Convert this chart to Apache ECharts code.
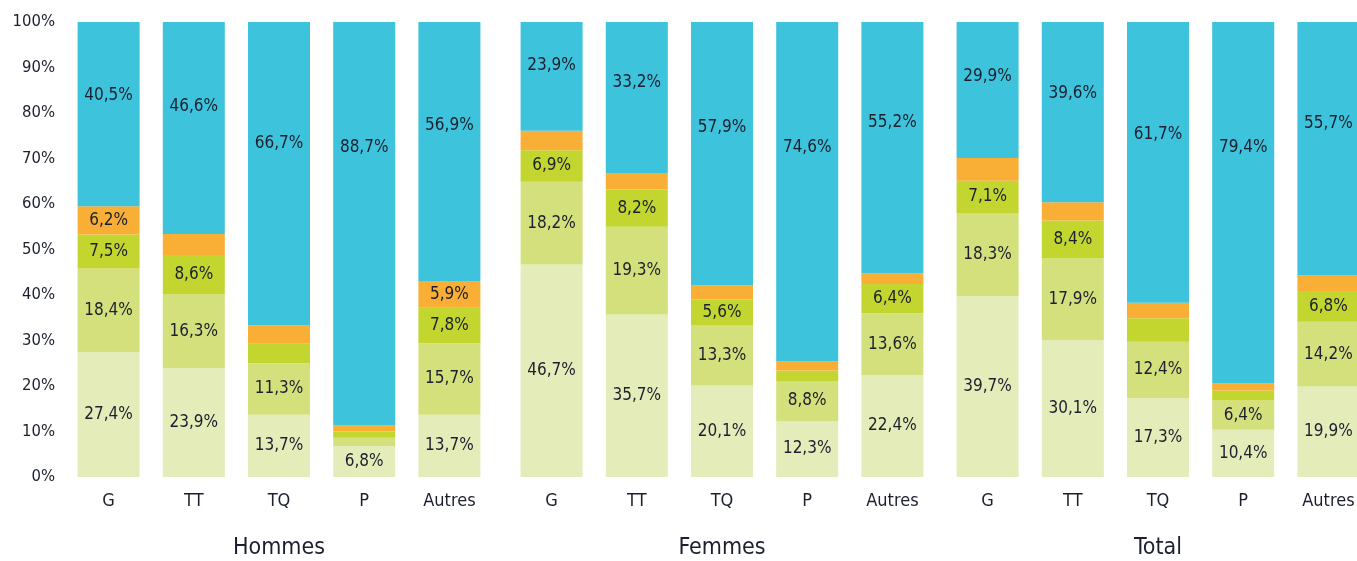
<!DOCTYPE html>
<html>
<head>
<meta charset="utf-8">
<script src="https://cdn.jsdelivr.net/npm/echarts@6/dist/echarts.min.js"></script>
<style>
  html, body { margin: 0; padding: 0; background: #fff; }
  #main { width: 1357px; height: 561px; }
</style>
</head>
<body>
<div id="main"></div>
<script>
var groups = ['Hommes', 'Femmes', 'Total'];
var categories = ['G', 'TT', 'TQ', 'P', 'Autres'];
var yTicks = [0, 10, 20, 30, 40, 50, 60, 70, 80, 90, 100];

// values per segment, 15 bars: Hommes x5, Femmes x5, Total x5 (bottom to top)
var seg1 = [27.4, 23.9, 13.7, 6.8, 13.7,   46.7, 35.7, 20.1, 12.3, 22.4,   39.7, 30.1, 17.3, 10.4, 19.9];
var seg2 = [18.4, 16.3, 11.3, 1.8, 15.7,   18.2, 19.3, 13.3, 8.8, 13.6,    18.3, 17.9, 12.4, 6.4, 14.2];
var seg3 = [7.5, 8.6, 4.3, 1.4, 7.8,       6.9, 8.2, 5.6, 2.3, 6.4,        7.1, 8.4, 5.2, 2.2, 6.8];
var seg4 = [6.2, 4.6, 4.0, 1.3, 5.9,       4.3, 3.6, 3.1, 2.0, 2.4,        5.0, 4.0, 3.4, 1.6, 3.4];
var seg5 = [40.5, 46.6, 66.7, 88.7, 56.9,  23.9, 33.2, 57.9, 74.6, 55.2,   29.9, 39.6, 61.7, 79.4, 55.7];

var segments = [seg1, seg2, seg3, seg4, seg5];
var colors = ['#E4EDBA', '#D4E07C', '#C3D62F', '#F9AE36', '#3DC3DC'];
var font = "'Liberation Sans Narrow', 'DejaVu Sans Condensed', sans-serif";
var textColor = '#1c1f2e';

function fmt(v) {
  return v.toFixed(1).replace('.', ',') + '%';
}

var grids = [], xAxes = [], yAxes = [], series = [];
var lefts = [66, 509, 945];

groups.forEach(function(g, gi) {
  grids.push({ left: lefts[gi], width: 426, top: 22, bottom: 84, outerBoundsMode: 'none', containLabel: false });
  xAxes.push({
    type: 'category', gridIndex: gi, data: categories,
    name: g, nameLocation: 'middle', nameGap: 60,
    nameTextStyle: { fontFamily: font, fontSize: 23, color: textColor },
    axisLine: { show: false }, axisTick: { show: false },
    axisLabel: { fontFamily: font, fontSize: 18, color: textColor, margin: 15 }
  });
  yAxes.push({
    type: 'value', gridIndex: gi, min: 0, max: 100, interval: 10,
    axisLine: { show: false }, axisTick: { show: false }, splitLine: { show: false },
    axisLabel: {
      show: gi === 0, fontFamily: font, fontSize: 16.5, color: textColor, margin: 11,
      formatter: function(v) { return yTicks.indexOf(v) >= 0 ? v + '%' : ''; }
    }
  });
  segments.forEach(function(seg, si) {
    var vals = seg.slice(gi * 5, gi * 5 + 5);
    series.push({
      type: 'bar', name: 'S' + (si + 1), stack: 'g' + gi,
      xAxisIndex: gi, yAxisIndex: gi, barWidth: 62,
      itemStyle: { color: colors[si] },
      data: vals.map(function(v) {
        var item = { value: v };
        if (si === 4) {
          var off = Math.min(0.4 * v, 27.7) / v * 100;
          item.label = { position: ['50%', off + '%'], align: 'center', verticalAlign: 'middle' };
        }
        return item;
      }),
      label: {
        show: true, position: 'inside',
        fontFamily: font, fontSize: 17, color: textColor,
        formatter: function(p) { return p.value >= 5.5 ? fmt(p.value) : ''; }
      }
    });
  });
});

var chart = echarts.init(document.getElementById('main'));
chart.setOption({
  animation: false,
  grid: grids,
  xAxis: xAxes,
  yAxis: yAxes,
  series: series
});
</script>
</body>
</html>
